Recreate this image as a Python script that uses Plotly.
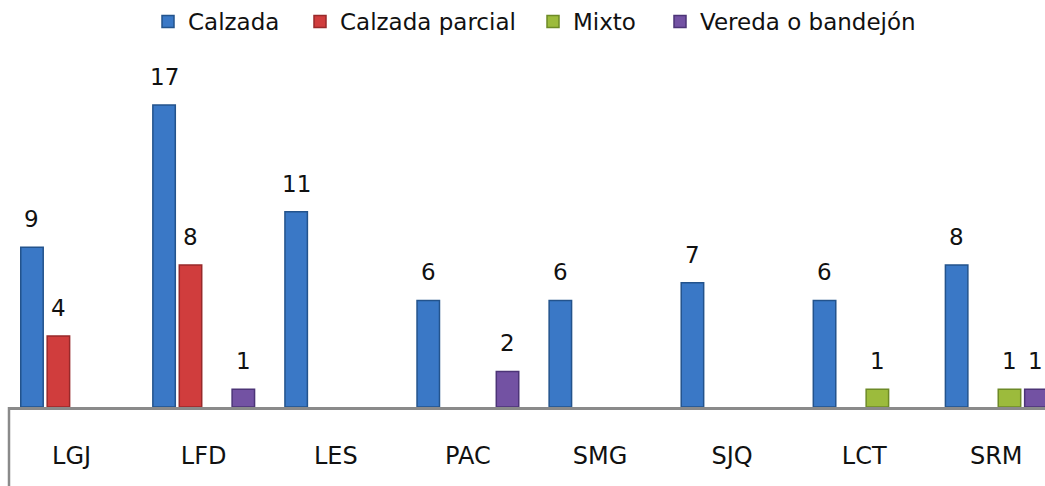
import plotly.graph_objects as go

categories = ["LGJ", "LFD", "LES", "PAC", "SMG", "SJQ", "LCT", "SRM"]
series_names = ["Calzada", "Calzada parcial", "Mixto", "Vereda o bandejón"]
calzada = [9, 17, 11, 6, 6, 7, 6, 8]
calzada_parcial = [4, 8, None, None, None, None, None, None]
mixto = [None, None, None, None, None, None, 1, 1]
vereda = [None, 1, None, 2, None, None, None, 1]
series_values = [calzada, calzada_parcial, mixto, vereda]

fill_colors = ["#3a78c6", "#d03d3d", "#9cbb3c", "#7352a3"]
line_colors = ["#23538c", "#98292a", "#6d8a27", "#4c3477"]
legend_x_px = [148, 300, 533, 660]

W, H = 1045, 486
ML, MR, MT, MB = 9, 0, 60, 79
x_range = [-0.474, 7.369]
y_range = [0, 19.54]
bargap = 0.2
bargroupgap = 0.15
plot_h = H - MT - MB

fig = go.Figure()
legend_layout = {}
for k, (name, vals, fc, lc) in enumerate(zip(series_names, series_values, fill_colors, line_colors)):
    lg = "legend" if k == 0 else f"legend{k + 1}"
    fig.add_trace(go.Bar(
        x=categories, y=vals, name=name, legend=lg,
        marker=dict(color=fc, line=dict(color=lc, width=1.5)),
        hoverinfo="skip",
    ))
    legend_layout[lg] = dict(
        orientation="h", xref="container", yref="paper",
        x=legend_x_px[k] / W, xanchor="left",
        y=1 + MT / plot_h, yanchor="top",
        font=dict(family="DejaVu Sans", size=23, color="#111111"),
        bgcolor="rgba(0,0,0,0)",
    )

# data labels above bars, offset to each bar's slot in the group
plot_w = W - ML - MR
px_per_cat = plot_w / (x_range[1] - x_range[0])
slot_px = px_per_cat * (1 - bargap) / len(series_names)
for k, vals in enumerate(series_values):
    for cat, v in zip(categories, vals):
        if v is None:
            continue
        fig.add_annotation(
            x=cat, y=v, text=str(v), showarrow=False,
            xshift=(k - (len(series_names) - 1) / 2) * slot_px,
            yanchor="bottom", yshift=13,
            font=dict(family="DejaVu Sans", size=23, color="#111111"),
        )

# left edge of the category box below the axis
fig.add_shape(type="line", xref="paper", yref="paper",
              x0=0, x1=0, y0=0, y1=-MB / plot_h - 0.05,
              line=dict(color="#8a8a8a", width=2.5))

fig.update_layout(
    width=W, height=H,
    margin=dict(l=ML, r=MR, t=MT, b=MB, autoexpand=False),
    paper_bgcolor="white", plot_bgcolor="white",
    barmode="group", bargap=bargap, bargroupgap=bargroupgap,
    font=dict(family="DejaVu Sans", size=23, color="#111111"),
    showlegend=True,
    hovermode=False,
    xaxis=dict(
        range=x_range, showgrid=False, zeroline=False, automargin=False,
        showline=True, linecolor="#8a8a8a", linewidth=3,
        ticks="", ticklabelstandoff=25,
        tickfont=dict(family="DejaVu Sans", size=24, color="#111111"),
    ),
    yaxis=dict(range=y_range, visible=False, showgrid=False, zeroline=False,
               automargin=False),
    **legend_layout,
)

fig.write_html(
    "out.html",
    config={"displayModeBar": False},
    post_script="document.body.style.margin='0';document.body.style.overflow='hidden';",
)
